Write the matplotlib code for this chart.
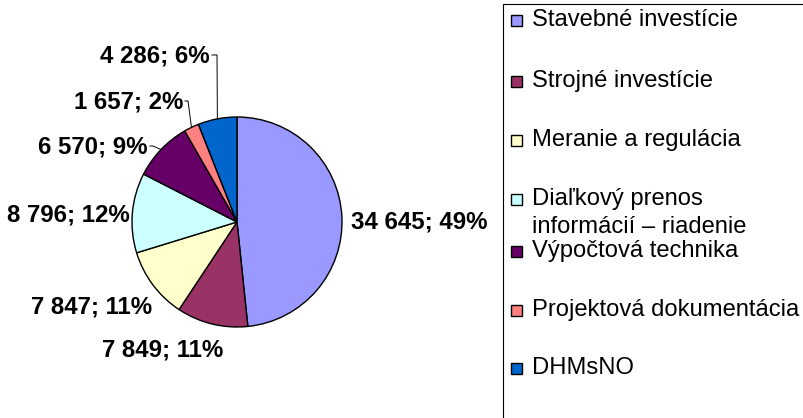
import matplotlib
matplotlib.use("Agg")
import matplotlib.pyplot as plt
from matplotlib.patches import Rectangle
import numpy as np

plt.rcParams['font.family'] = ['Liberation Sans', 'DejaVu Sans']

categories = ["Stavebné investície", "Strojné investície", "Meranie a regulácia",
              "Diaľkový prenos\ninformácií – riadenie", "Výpočtová technika",
              "Projektová dokumentácia", "DHMsNO"]
values = [34645, 7849, 7847, 8796, 6570, 1657, 4286]
value_labels = ["34 645", "7 849", "7 847", "8 796", "6 570", "1 657", "4 286"]
percent_labels = ["49%", "11%", "11%", "12%", "9%", "2%", "6%"]
colors = ["#9999FF", "#993366", "#FFFFCC", "#CCFFFF", "#660066", "#FF8080", "#0066CC"]

W, H = 804, 418
fig = plt.figure(figsize=(W / 100, H / 100), dpi=100)
ax = fig.add_axes([0, 0, 1, 1])
ax.set_xlim(0, W)
ax.set_ylim(0, H)
ax.axis('off')

def Y(y):
    return H - y

cx, cy, r = 237, 222, 105
wedges, _ = ax.pie(values, colors=colors, startangle=90, counterclock=False,
                   center=(cx, Y(cy)), radius=r, frame=True,
                   wedgeprops=dict(edgecolor='black', linewidth=1.0))
ax.set_xlim(0, W)
ax.set_ylim(0, H)
ax.set_aspect('equal')
ax.axis('off')

# label layout: (x, y, ha, leader elbow x or None)
label_pos = [
    (351, 222, 'left', None),
    (163, 350, 'center', None),
    (152, 307, 'right', None),
    (130, 215, 'right', None),
    (148, 147, 'right', 153),
    (183, 102, 'right', 188),
    (210, 56, 'right', 217),
]
fs_lab = 17.3
for w, vl, pl, (x, y, ha, elbow) in zip(wedges, value_labels, percent_labels, label_pos):
    ax.text(x, Y(y), f"{vl}; {pl}", ha=ha, va='center', fontsize=fs_lab,
            fontweight='bold', color='black')
    if elbow is not None:
        mid = np.deg2rad((w.theta1 + w.theta2) / 2)
        ex = cx + r * np.cos(mid)
        ey = Y(cy) + r * np.sin(mid)
        ax.plot([x + 2, elbow, ex], [Y(y - 1), Y(y - 1), ey], color='black', lw=0.7)

# legend box
ax.add_patch(Rectangle((503, Y(4)), 400, -500, facecolor='none', edgecolor='black', lw=0.8))
leg_y = [20, 81, 140, 199, 251, 310, 368]
fs_leg = 17.1
for lab, col, y in zip(categories, colors, leg_y):
    ax.add_patch(Rectangle((511.5, Y(y) - 5.5), 11, 11, facecolor=col, edgecolor='black', lw=1.0))
    for i, line in enumerate(lab.split("\n")):
        ax.text(532, Y(y + i * 28), line, ha='left', va='center', fontsize=fs_leg, color='black')

fig.savefig("out.png", dpi=100)
